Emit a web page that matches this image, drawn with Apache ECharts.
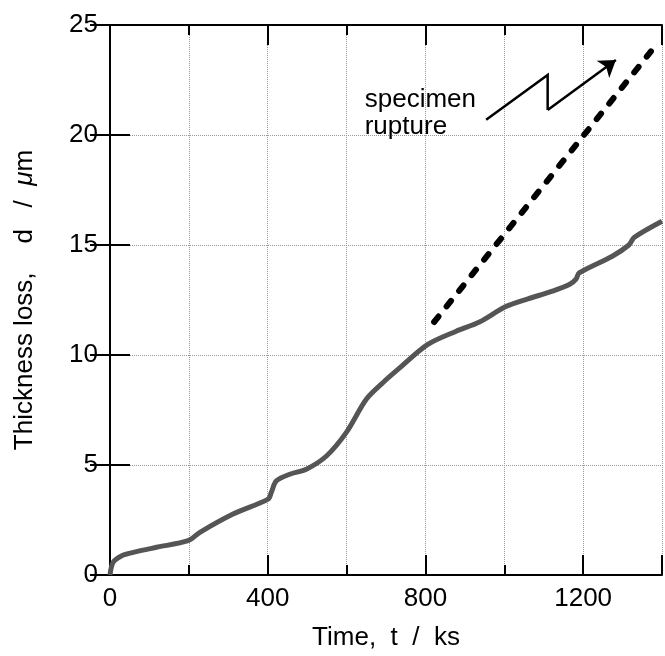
<!DOCTYPE html>
<html>
<head>
<meta charset="utf-8">
<script src="https://cdn.jsdelivr.net/npm/echarts@6/dist/echarts.min.js"></script>
<style>
  html, body { margin: 0; padding: 0; background: #fff; }
  #chart { width: 665px; height: 656px; }
</style>
</head>
<body>
<div id="chart"></div>
<script>
// measured curve: time (ks) vs thickness loss (um)
var time = [0, 8, 30, 59, 118, 198, 228, 312, 401, 409, 422, 456, 498, 549, 599, 650, 692, 734, 806, 878, 937, 1004, 1060, 1122, 1165, 1182, 1190, 1274, 1316, 1330, 1400]
var loss = [0, 0.58, 0.88, 1.03, 1.26, 1.56, 1.94, 2.77, 3.45, 3.75, 4.28, 4.58, 4.81, 5.41, 6.47, 7.99, 8.74, 9.4, 10.48, 11.08, 11.5, 12.2, 12.55, 12.9, 13.2, 13.45, 13.73, 14.49, 15.0, 15.35, 16.08]

// dashed extrapolation line
var trendT = [822, 1372]
var trendD = [11.5, 23.8]

// zigzag "rupture" arrow (last segment carries the arrow head)
var boltT = [954, 1110, 1110, 1283]
var boltD = [20.69, 22.73, 21.14, 23.41]

// note text anchor
var noteT = [646]
var noteD = [21.0]

var xMajorTicks = [0, 400, 800, 1200]

var font = 'Liberation Sans'
var fs = 26
var chart = echarts.init(document.getElementById('chart'))

function pairs(xs, ys) {
  return xs.map(function(x, i) { return [x, ys[i]] })
}

var gridLine = { show: true, lineStyle: { color: '#999', type: 'dotted', width: 1 } }
var axisLine = { show: true, lineStyle: { color: '#000', width: 2 } }
var bigTick = { inside: true, length: 20, lineStyle: { color: '#000', width: 2 } }
var smallTick = { inside: true, length: 10, lineStyle: { color: '#000', width: 2 } }

var boltPts = pairs(boltT, boltD)

chart.setOption({
  animation: false,
  grid: { left: 110, top: 25, width: 553, height: 551 },
  xAxis: [
    {
      type: 'value', position: 'bottom', min: 0, max: 1400, interval: 400,
      name: 'Time,  t  /  ks', nameLocation: 'middle', nameGap: 50,
      nameTextStyle: { fontFamily: font, fontSize: fs, color: '#000' },
      axisLine: axisLine,
      axisTick: bigTick,
      axisLabel: {
        margin: 11, fontFamily: font, fontSize: fs, color: '#000',
        formatter: function(v) { return xMajorTicks.indexOf(v) >= 0 ? String(v) : '' }
      },
      splitLine: { show: false }
    },
    {
      type: 'value', position: 'bottom', min: 0, max: 1400, interval: 200,
      axisLine: { show: false },
      axisTick: smallTick,
      axisLabel: { show: false },
      splitLine: gridLine
    },
    {
      type: 'value', position: 'top', min: 0, max: 1400, interval: 400,
      axisLine: axisLine,
      axisTick: bigTick,
      axisLabel: { show: false },
      splitLine: { show: false }
    },
    {
      type: 'value', position: 'top', min: 0, max: 1400, interval: 200,
      axisLine: { show: false },
      axisTick: smallTick,
      axisLabel: { show: false },
      splitLine: { show: false }
    }
  ],
  yAxis: [
    {
      type: 'value', position: 'left', min: 0, max: 25, interval: 5,
      name: 'Thickness loss,    d   /  {i|μ}m', nameLocation: 'middle', nameGap: 72,
      nameTextStyle: {
        fontFamily: font, fontSize: fs, color: '#000',
        rich: { i: { fontFamily: font, fontSize: fs, fontStyle: 'italic', color: '#000' } }
      },
      axisLine: axisLine,
      axisTick: bigTick,
      axisLabel: { margin: 12, fontFamily: font, fontSize: fs, color: '#000' },
      splitLine: gridLine
    },
    {
      type: 'value', position: 'right', min: 0, max: 25, interval: 5,
      axisLine: axisLine,
      axisTick: bigTick,
      axisLabel: { show: false },
      splitLine: { show: false }
    }
  ],
  series: [
    {
      type: 'line',
      xAxisIndex: 0, yAxisIndex: 0,
      data: pairs(time, loss),
      symbol: 'none',
      smooth: 0.3,
      lineStyle: { color: '#555', width: 5 }
    },
    {
      type: 'lines',
      coordinateSystem: 'cartesian2d',
      xAxisIndex: 0, yAxisIndex: 0,
      symbol: ['none', 'none'],
      lineStyle: { color: '#000', width: 6, type: [7, 13], cap: 'round', opacity: 1 },
      data: [{ coords: pairs(trendT, trendD) }]
    },
    {
      type: 'lines',
      coordinateSystem: 'cartesian2d',
      xAxisIndex: 0, yAxisIndex: 0,
      polyline: true,
      lineStyle: { color: '#000', width: 2.5, opacity: 1 },
      data: [{ coords: boltPts.slice(0, 3) }]
    },
    {
      type: 'lines',
      coordinateSystem: 'cartesian2d',
      xAxisIndex: 0, yAxisIndex: 0,
      symbol: ['none', 'arrow'],
      symbolSize: 16,
      lineStyle: { color: '#000', width: 2.5, opacity: 1 },
      data: [{ coords: boltPts.slice(2) }]
    },
    {
      type: 'scatter',
      xAxisIndex: 0, yAxisIndex: 0,
      symbolSize: 0,
      itemStyle: { opacity: 1 },
      data: pairs(noteT, noteD),
      label: {
        show: true, position: 'right', distance: 0,
        formatter: 'specimen\nrupture',
        fontFamily: font, fontSize: fs, lineHeight: 27, color: '#000', opacity: 1, align: 'left'
      },
      silent: true
    }
  ]
})
</script>
</body>
</html>
